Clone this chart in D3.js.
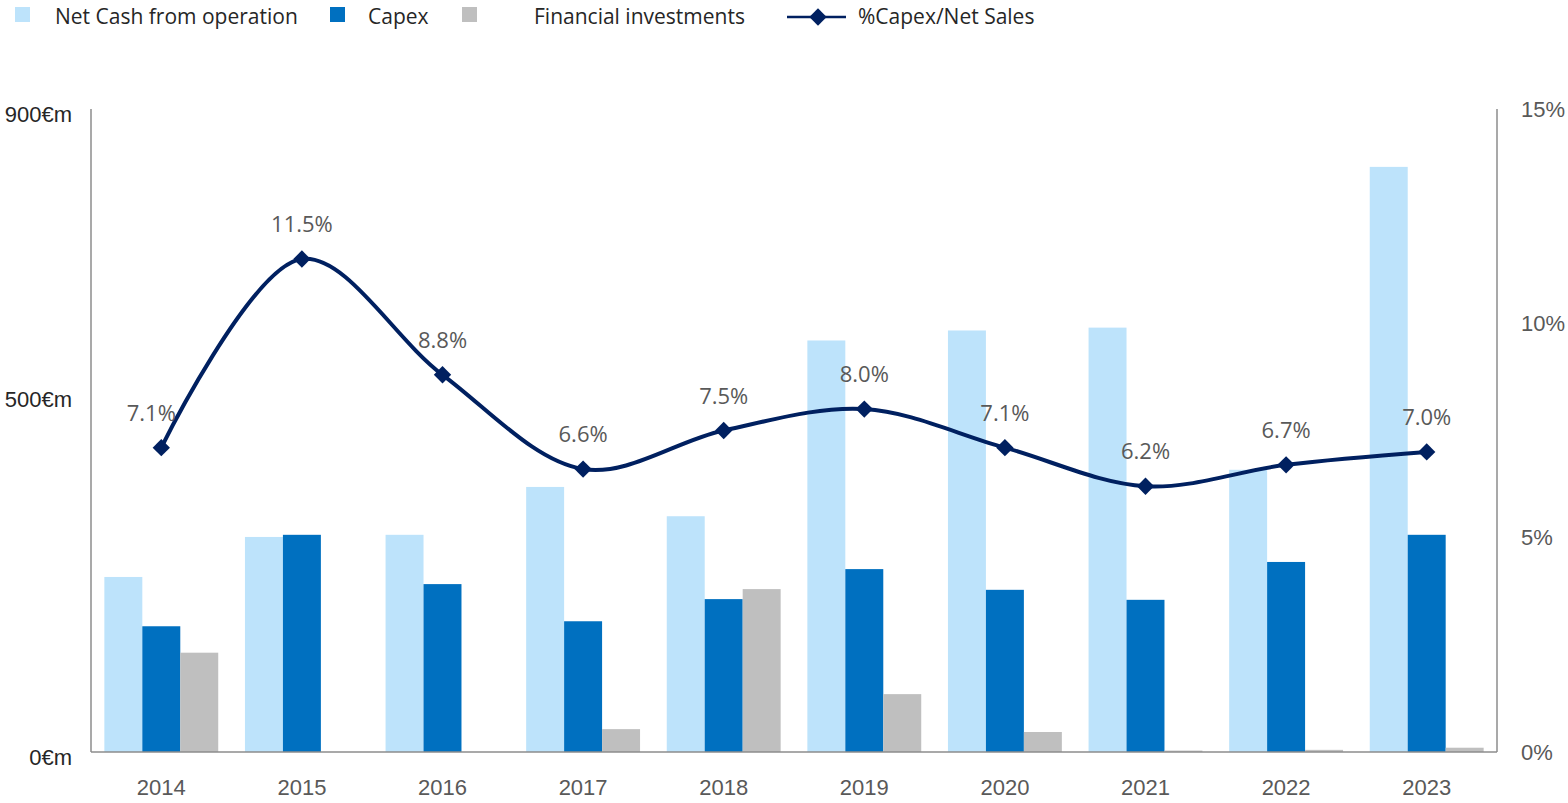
<!DOCTYPE html>
<html>
<head>
<meta charset="utf-8">
<script src="https://cdn.jsdelivr.net/npm/d3@7"></script>
<style>
  body { margin: 0; background: #fff; }
  svg { display: block; font-family: "Open Sans", "Noto Sans", sans-serif; }
</style>
</head>
<body>
<svg id="chart" width="1568" height="803"></svg>
<script>
// data
const years = ["2014", "2015", "2016", "2017", "2018", "2019", "2020", "2021", "2022", "2023"];
const netCash = [245, 301, 304, 371, 330, 576, 590, 594, 395, 819];
const capex = [176, 304, 235, 183, 214, 256, 227, 213, 266, 304];
const finInv = [139, 0, 0, 32, 228, 81, 28, 2, 3, 6];
const capexPct = [7.1, 11.5, 8.8, 6.6, 7.5, 8.0, 7.1, 6.2, 6.7, 7.0];
const leftTicks = [0, 500, 900];
const rightTicks = [0, 5, 10, 15];

const seriesNames = ["Net Cash from operation", "Capex", "Financial investments"];
const seriesColors = ["#BDE3FB", "#0070C0", "#BFBFBF"];
const lineColor = "#002060";
const textColor = "#595959";
const axisColor = "#8c8c8c";

const svg = d3.select("#chart");
const margin = {top: 109, right: 71, bottom: 51, left: 91};
const W = 1568, H = 803;
const innerW = W - margin.left - margin.right;
const innerH = H - margin.top - margin.bottom;

const g = svg.append("g").attr("transform", `translate(${margin.left},${margin.top})`);

const x = d3.scaleBand().domain(years).range([0, innerW]).paddingInner(0.19).paddingOuter(0.095);
const xs = d3.scaleBand().domain([0, 1, 2]).range([0, x.bandwidth()]);
const yL = d3.scaleLinear().domain([0, 900]).range([innerH, 0]);
const yR = d3.scaleLinear().domain([0, 15]).range([innerH, 0]);

const rows = years.map((yr, i) => ({year: yr, vals: [netCash[i], capex[i], finInv[i]]}));

// bars
const groups = g.selectAll(".grp").data(rows).enter().append("g")
  .attr("transform", d => `translate(${x(d.year)},0)`);
groups.selectAll("rect").data(d => d.vals).enter().append("rect")
  .attr("x", (d, i) => xs(i))
  .attr("width", xs.bandwidth())
  .attr("y", d => yL(d))
  .attr("height", d => innerH - yL(d))
  .attr("fill", (d, i) => seriesColors[i]);

// axes lines
g.append("line").attr("x1", 0).attr("x2", 0).attr("y1", 0).attr("y2", innerH)
  .attr("stroke", axisColor).attr("stroke-width", 1.5);
g.append("line").attr("x1", innerW).attr("x2", innerW).attr("y1", 0).attr("y2", innerH)
  .attr("stroke", axisColor).attr("stroke-width", 1.5);
g.append("line").attr("x1", 0).attr("x2", innerW).attr("y1", innerH).attr("y2", innerH)
  .attr("stroke", axisColor).attr("stroke-width", 1.5);

// tick labels
const leftAxis = g.append("g").call(d3.axisLeft(yL).tickValues(leftTicks).tickSize(0).tickPadding(19).tickFormat(d => d + "€m"));
leftAxis.select(".domain").remove();
leftAxis.selectAll("text").attr("font-size", 22).attr("fill", "#262626").attr("font-family", null).attr("dy", "0.55em");

const rightAxis = g.append("g").attr("transform", `translate(${innerW},0)`)
  .call(d3.axisRight(yR).tickValues(rightTicks).tickSize(0).tickPadding(24).tickFormat(d => d + "%"));
rightAxis.select(".domain").remove();
rightAxis.selectAll("text").attr("font-size", 22).attr("fill", textColor).attr("font-family", null);

const bottomAxis = g.append("g").attr("transform", `translate(0,${innerH})`)
  .call(d3.axisBottom(x).tickSize(0).tickPadding(27));
bottomAxis.select(".domain").remove();
bottomAxis.selectAll("text").attr("font-size", 22).attr("fill", textColor).attr("font-family", null);

// line
const cx = yr => x(yr) + x.bandwidth() / 2;
const pts = years.map((yr, i) => [cx(yr), yR(capexPct[i])]);
g.append("path").attr("d", d3.line().curve(d3.curveCatmullRom.alpha(0.5))(pts))
  .attr("fill", "none").attr("stroke", lineColor).attr("stroke-width", 4);

const diamond = d3.symbol().type(d3.symbolSquare).size(150);
g.selectAll(".pt").data(pts).enter().append("path")
  .attr("d", diamond)
  .attr("transform", d => `translate(${d[0]},${d[1]}) rotate(45)`)
  .attr("fill", lineColor);

g.selectAll(".lbl").data(capexPct).enter().append("text")
  .attr("x", (d, i) => cx(years[i]) - (i === 0 ? 10 : 0))
  .attr("y", d => yR(d) - 27)
  .attr("text-anchor", "middle")
  .attr("font-size", 22)
  .attr("fill", textColor)
  .text(d => d.toFixed(1) + "%");

// legend
const leg = svg.append("g").attr("font-size", 21).attr("fill", "#262626");
const legX = [15, 330, 462];
const legTextX = [55, 368, 534];
seriesNames.forEach((n, i) => {
  leg.append("rect").attr("x", legX[i]).attr("y", 7).attr("width", 15).attr("height", 15).attr("fill", seriesColors[i]);
  leg.append("text").attr("x", legTextX[i]).attr("y", 24).text(n);
});
leg.append("line").attr("x1", 787).attr("x2", 846).attr("y1", 17).attr("y2", 17)
  .attr("stroke", lineColor).attr("stroke-width", 2.5);
leg.append("path").attr("d", diamond).attr("transform", "translate(818,17) rotate(45)").attr("fill", lineColor);
leg.append("text").attr("x", 858).attr("y", 24).text("%Capex/Net Sales");
</script>
</body>
</html>
